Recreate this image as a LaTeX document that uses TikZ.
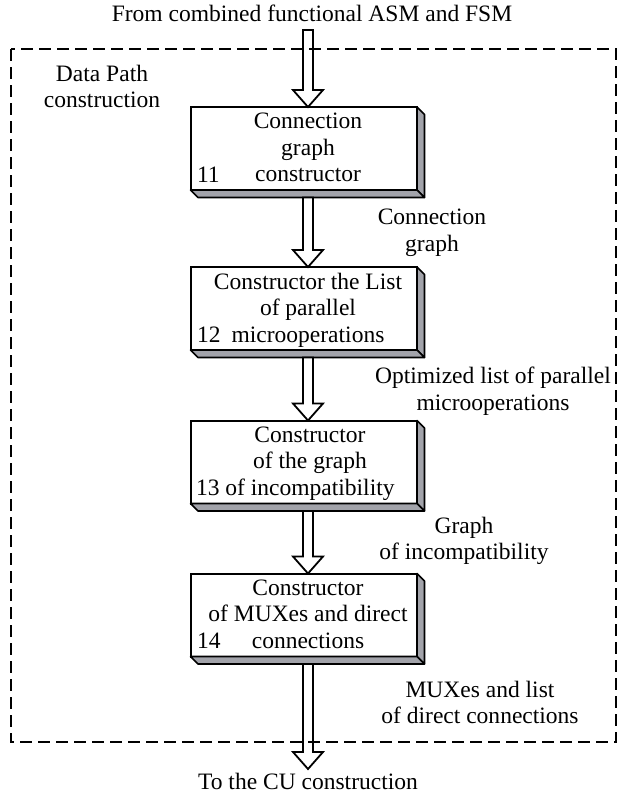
\documentclass[tikz,border=0pt]{standalone}
\usepackage{fontspec}
\setmainfont{Liberation Serif}
\usetikzlibrary{calc}

% hollow block arrow pointing down from #1 to #2
\newcommand\fatconn[2]{%
  \draw[fatarrow] let \p1=(#1), \p2=(#2) in
    (\x1-5bp,\y1) -- (\x1-5bp,\y2+17bp) -- (\x1-15bp,\y2+17bp) -- (\x1,\y2)
    -- (\x1+15bp,\y2+17bp) -- (\x1+5bp,\y2+17bp) -- (\x1+5bp,\y1) -- cycle;}

\tikzset{
  txt/.style={inner sep=0pt, outer sep=0pt, font=\fontsize{23.6}{26.6}\selectfont},
  boxtext/.style={txt, align=center, anchor=north},
  stagebox/.style={draw, line width=2bp, fill=white, inner sep=0pt, outer sep=0pt,
    minimum width=226.5bp, minimum height=83bp},
  sideface/.style={draw, line width=1.6bp, line join=round,
    fill={rgb,255:red,162;green,163;blue,170}},
  fatarrow/.style={draw, line width=1.8bp, fill=white, line join=miter},
  frame/.style={draw, line width=2bp, dash pattern=on 12bp off 6bp}
}

\begin{document}
\begin{tikzpicture}[x=1bp,y=-1bp]
\useasboundingbox (0,0) rectangle (623,794);

% captions outside the frame
\node[txt, anchor=base] (from) at (312,22) {From combined functional ASM and FSM};
\node[txt, anchor=base] (to) at (308,789) {To the CU construction};
\node[boxtext] (dp) at (102,65) {Data Path\\construction};

% the four stages (front faces)
\node[stagebox] (b1) at (303.75,148.5) {};
\node[stagebox] (b2) at (303.75,308.5) {};
\node[stagebox] (b3) at (303.75,462) {};
\node[stagebox] (b4) at (303.75,615) {};

% extruded right and bottom faces
\foreach \n in {b1,b2,b3,b4}{
  \path[sideface] (\n.north east) -- ++(7.5,7.5) -- ($(\n.south east)+(7.5,7.5)$)
    -- (\n.south east) -- cycle;
  \path[sideface] (\n.south west) -- (\n.south east) -- ($(\n.south east)+(7.5,7.5)$)
    -- ($(\n.south west)+(7.5,7.5)$) -- cycle;
}

% stage texts and numbers
\node[boxtext] (t1) at (308,113) {Connection\\graph\\constructor};
\node[boxtext] (t2) at (308,273) {Constructor the List\\of parallel\\microoperations};
\node[boxtext] (t3) at (310,426.5) {Constructor\\of the graph\\of incompatibility};
\node[boxtext] (t4) at (308,579.5) {Constructor\\of MUXes and direct\\connections};
\node[txt, anchor=base west] (n1) at (197,182) {11};
\node[txt, anchor=base west] (n2) at (197,342) {12};
\node[txt, anchor=base west] (n3) at (196,495.5) {13};
\node[txt, anchor=base west] (n4) at (197,648.5) {14};

% labels of the intermediate results
\node[boxtext] (l1) at (432,209) {Connection\\graph};
\node[boxtext] (l2) at (493,367) {Optimized list of parallel\\microoperations};
\node[boxtext] (l3) at (464,517) {Graph\\of incompatibility};
\node[boxtext] (l4) at (480,681) {MUXes and list\\of direct connections};

% flow arrows
\coordinate (src) at (308,30);
\coordinate (dst) at (308,769);
\fatconn{src}{src |- b1.north}
\fatconn{$(src |- b1.south)+(0,7.5)$}{src |- b2.north}
\fatconn{$(src |- b2.south)+(0,7.5)$}{src |- b3.north}
\fatconn{$(src |- b3.south)+(0,7.5)$}{src |- b4.north}
\fatconn{$(src |- b4.south)+(0,7.5)$}{dst}

% dashed boundary of the data path block
\path[frame] (11,49) rectangle (616,742);
\end{tikzpicture}
\end{document}
